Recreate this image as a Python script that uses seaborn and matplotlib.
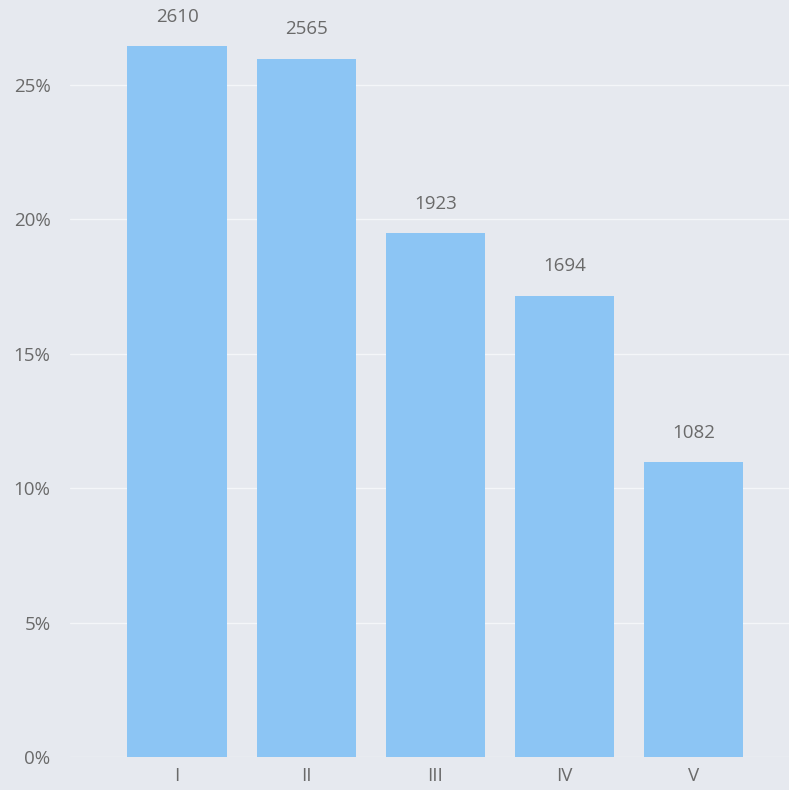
import matplotlib
matplotlib.use("Agg")
import matplotlib.pyplot as plt
import seaborn as sns
import pandas as pd
from matplotlib.ticker import FuncFormatter

categories = ["I", "II", "III", "IV", "V"]
counts = [2610, 2565, 1923, 1694, 1082]

total = sum(counts)
df = pd.DataFrame({
    "category": categories,
    "count": counts,
    "share": [c / total * 100 for c in counts],
})

sns.set_theme(style="white")
plt.rcParams["font.family"] = ["Open Sans", "DejaVu Sans"]

bg = "#e6e9ef"
text_color = "#6a6a6a"

fig = plt.figure(figsize=(7.89, 7.90), dpi=100, facecolor=bg)
ax = fig.add_axes([70 / 789, 33 / 790, 719 / 789, 757 / 790])
ax.set_facecolor(bg)

sns.barplot(data=df, x="category", y="share", color="#8cc5f4",
            saturation=1, width=0.77, linewidth=0, ax=ax, zorder=3)

ax.bar_label(ax.containers[0], labels=[str(c) for c in counts],
             padding=15, fontsize=13.5, color=text_color)

ax.set_xlim(-0.83, 4.74)
ax.set_ylim(0, 28.16)
ax.set_yticks([0, 5, 10, 15, 20, 25])
ax.yaxis.set_major_formatter(FuncFormatter(lambda v, _: f"{v:.0f}%"))
ax.grid(axis="y", color="#f4f6f9", linewidth=1.0, zorder=0)
ax.tick_params(axis="both", length=0, labelsize=13.5, labelcolor=text_color)
ax.tick_params(axis="y", pad=14)
ax.tick_params(axis="x", pad=7)
ax.set_xlabel("")
ax.set_ylabel("")
for s in ax.spines.values():
    s.set_visible(False)

fig.savefig("out.png", dpi=100, facecolor=bg)
